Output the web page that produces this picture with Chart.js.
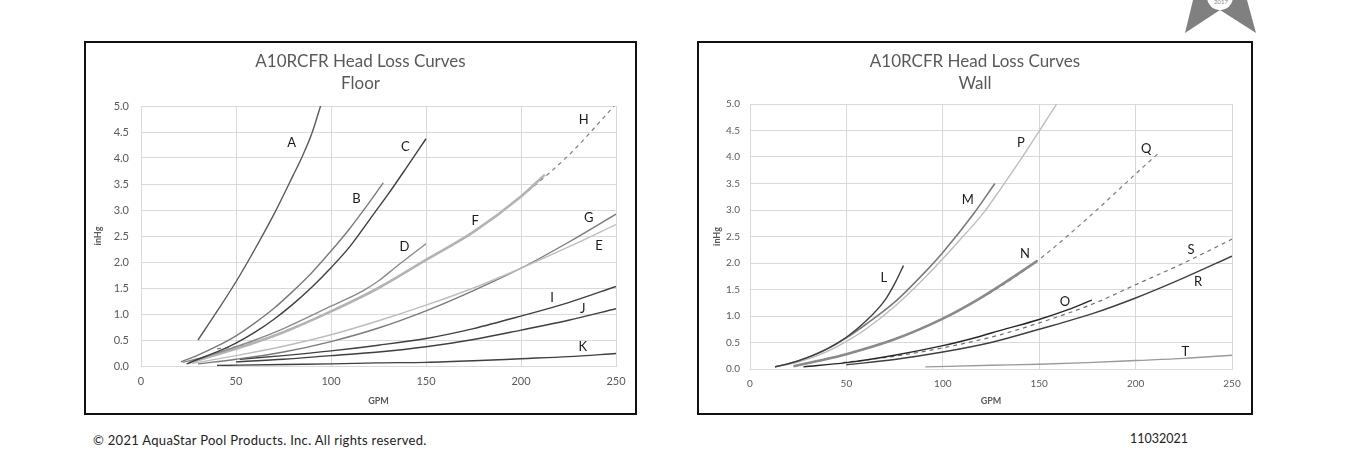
<!DOCTYPE html>
<html><head><meta charset="utf-8">
<script src="https://cdn.jsdelivr.net/npm/chart.js@4.4.1/dist/chart.umd.min.js"></script>
<style>
html,body{margin:0;padding:0;background:#fff;}
body{width:1348px;height:461px;position:relative;overflow:hidden;font-family:Lato,'Open Sans',sans-serif;}
.box{position:absolute;border:2px solid #111;box-sizing:border-box;}
#box1{left:84px;top:41px;width:553px;height:374px;}
#box2{left:697px;top:41px;width:556px;height:374px;}
.box canvas{position:absolute;left:0;top:0;}
.foot{position:absolute;font-size:13px;line-height:16px;color:#222;white-space:nowrap;}
</style></head>
<body>
<svg style="position:absolute;left:1180px;top:0" width="80" height="36">
<polygon points="13,0 5,33 40,10 76,33 67,0" fill="#808080"/>
<circle cx="40" cy="-3" r="13" fill="#fff"/>
<text x="41" y="4" font-size="6" fill="#888" text-anchor="middle" font-family="Lato">2017</text>
</svg>
<div class="box" id="box1"><canvas id="c1" width="549" height="370"></canvas></div>
<div class="box" id="box2"><canvas id="c2" width="552" height="370"></canvas></div>
<div class="foot" style="left:93px;top:432px;letter-spacing:0.3px;">© 2021 AquaStar Pool Products. Inc. All rights reserved.</div>
<div class="foot" style="left:1130px;top:431px;font-size:12.5px;">11032021</div>
<script>
// ---- Data: [GPM, inHg] pairs ----
const gpmTicks = [0, 50, 100, 150, 200, 250];
const inHgTicks = [0, 0.5, 1, 1.5, 2, 2.5, 3, 3.5, 4, 4.5, 5];

// Floor curves
const floorA = [[30,0.5],[40,1.05],[50,1.62],[60,2.25],[70,2.92],[80,3.66],[85,4.04],[90,4.48],[94.5,5.0]];
const floorB = [[21,0.08],[30,0.21],[40,0.38],[50,0.58],[60,0.83],[70,1.11],[80,1.44],[90,1.8],[100,2.21],[110,2.65],[116,2.94],[127.5,3.52]];
const floorC = [[24,0.04],[30,0.13],[40,0.27],[50,0.44],[60,0.65],[70,0.9],[80,1.19],[90,1.52],[100,1.89],[110,2.3],[122.8,2.94],[130,3.3],[140,3.83],[150,4.37]];
const floorD = [[22,0.07],[30,0.14],[40,0.25],[50,0.37],[60,0.5],[75,0.72],[100,1.15],[117,1.45],[125.5,1.65],[134,1.9],[150,2.35]];
const floorE = [[27,0.05],[50,0.2],[75,0.38],[100,0.6],[125,0.87],[150,1.17],[175,1.5],[200,1.88],[225,2.29],[250,2.72]];
const floorF = [[25,0.06],[50,0.33],[75,0.65],[100,1.05],[125,1.5],[150,2.04],[175,2.58],[200,3.26],[212.6,3.68]];
const floorG = [[30,0.04],[50,0.13],[75,0.27],[100,0.47],[125,0.73],[150,1.06],[175,1.45],[200,1.88],[225,2.38],[250,2.92]];
const floorH = [[40,0.33],[50,0.37],[60,0.46],[75,0.66],[100,1.05],[125,1.5],[150,2.04],[175,2.58],[200,3.26],[225,4.05],[249,5.0]];
const floorI = [[52,0.13],[75,0.2],[100,0.29],[125,0.4],[150,0.53],[175,0.72],[200,0.96],[225,1.22],[250,1.53]];
const floorJ = [[50,0.08],[75,0.13],[100,0.2],[125,0.27],[150,0.37],[175,0.51],[200,0.69],[225,0.88],[250,1.1]];
const floorK = [[40,0.01],[75,0.03],[100,0.04],[125,0.06],[150,0.07],[175,0.1],[200,0.14],[225,0.18],[250,0.24]];

// Wall curves
const wallL = [[13,0.04],[20,0.1],[30,0.22],[40,0.38],[50,0.6],[60,0.9],[70,1.3],[75.6,1.65],[79.6,1.95]];
const wallM = [[13,0.04],[25,0.15],[40,0.38],[50,0.59],[60,0.84],[75,1.26],[90,1.8],[100,2.2],[115.8,2.92],[127,3.5]];
const wallN = [[22.5,0.05],[35,0.15],[50,0.28],[75,0.56],[100,0.95],[117.7,1.3],[130,1.58],[149,2.04]];
const wallO = [[27.7,0.04],[50,0.12],[75,0.26],[100,0.44],[117.7,0.6],[130,0.73],[149.5,0.93],[165,1.12],[177.3,1.3]];
const wallP = [[13,0.04],[25,0.13],[40,0.33],[50,0.52],[60,0.75],[75,1.18],[90,1.7],[100,2.08],[110,2.48],[121,2.94],[130,3.4],[140,3.93],[150,4.49],[159,5.0]];
const wallQ = [[23,0.05],[50,0.28],[75,0.56],[100,0.95],[125,1.45],[149,2.04],[178,2.94],[200,3.68],[212.7,4.1]];
const wallR = [[50,0.08],[75,0.18],[100,0.32],[125,0.5],[150,0.75],[178,1.05],[200,1.34],[225,1.72],[250,2.13]];
const wallS = [[48,0.12],[75,0.24],[100,0.4],[125,0.6],[150,0.87],[178,1.23],[200,1.59],[225,2.0],[250,2.45]];
const wallT = [[91,0.04],[125,0.07],[150,0.09],[175,0.12],[200,0.16],[225,0.2],[250,0.26]];

// Curve letter anchors (in GPM / inHg units)
const floorLetters = [['A',79.3,4.29],['B',113.4,3.21],['C',139.1,4.21],['D',138.6,2.29],['F',175.9,2.79],['H',233,4.73],['G',235.7,2.85],['E',241,2.31],['I',216.3,1.31],['J',232.5,1.1],['K',232.5,0.37]];
const wallLetters = [['P',140.5,4.26],['Q',205.5,4.15],['M',113,3.19],['L',69.4,1.72],['N',142.6,2.17],['O',163.4,1.27],['S',228.8,2.25],['R',232.4,1.64],['T',225.8,0.33]];

const FONT = 'Lato, "Open Sans", sans-serif';
const toXY = arr => arr.map(p => ({x: p[0], y: p[1]}));
function ds(arr, color, width, dash) {
  return {data: toXY(arr), borderColor: color, borderWidth: width, borderDash: dash || [],
    pointRadius: 0, fill: false, cubicInterpolationMode: 'monotone'};
}

const letterPlugin = {
  id: 'letters',
  afterDatasetsDraw(chart, args, opts) {
    const {ctx} = chart; const x = chart.scales.x, y = chart.scales.y;
    ctx.save();
    ctx.font = '13px ' + FONT; ctx.fillStyle = '#1a1a1a';
    ctx.textAlign = 'center'; ctx.textBaseline = 'middle';
    opts.items.forEach(([t, gx, gy]) => ctx.fillText(t, x.getPixelForValue(gx), y.getPixelForValue(gy)));
    ctx.restore();
  }
};
// centre the title over the whole canvas (box), not only the padded area
const centreTitlePlugin = {
  id: 'centreTitle',
  afterLayout(chart) {
    const t = chart.titleBlock;
    if (t) { t.left = 0; t.right = chart.width; t.width = chart.width; }
  }
};

function makeChart(id, sub, datasets, letters, L) {
  new Chart(document.getElementById(id), {
    type: 'line',
    data: {datasets},
    plugins: [letterPlugin, centreTitlePlugin],
    options: {
      responsive: false, animation: false,
      layout: {padding: {top: 0, left: 0, right: L.right, bottom: 0}},
      plugins: {
        legend: {display: false}, tooltip: {enabled: false},
        title: {display: true, text: ['A10RCFR Head Loss Curves', sub], color: '#595959',
          font: {family: FONT, size: 17, weight: 'normal', lineHeight: 1.3},
          padding: {top: 7, bottom: L.titleBottom}},
        letters: {items: letters}
      },
      scales: {
        x: {type: 'linear', min: 0, max: 250,
          afterBuildTicks: s => { s.ticks = gpmTicks.map(v => ({value: v})); },
          afterFit: s => { s.height = L.xh; },
          grid: {color: '#d9d9d9', drawTicks: false}, border: {color: '#d9d9d9'},
          ticks: {color: '#595959', font: {family: FONT, size: L.tickSize}, padding: L.xpad, maxRotation: 0},
          title: {display: true, text: 'GPM', color: '#595959', font: {family: FONT, size: 9, weight: 'bold'}, padding: {top: 0, bottom: L.gpmPad}}
        },
        y: {type: 'linear', min: 0, max: 5,
          afterBuildTicks: s => { s.ticks = inHgTicks.map(v => ({value: v})); },
          afterFit: s => { s.width = L.yw; },
          grid: {color: '#d9d9d9', drawTicks: false}, border: {color: '#d9d9d9'},
          ticks: {color: '#595959', font: {family: FONT, size: L.tickSize}, padding: L.ypad, callback: v => Number(v).toFixed(1)},
          title: {display: true, text: 'inHg', color: '#595959', font: {family: FONT, size: 9, weight: 'bold'}, padding: {top: L.inhgPad, bottom: 0}}
        }
      }
    }
  });
}

makeChart('c1', 'Floor', [
  ds(floorA, '#5a5a5a', 1.4), ds(floorB, '#7a7a7a', 1.4), ds(floorC, '#3f3f3f', 1.4),
  ds(floorD, '#8a8a8a', 1.4), ds(floorE, '#bdbdbd', 1.4), ds(floorG, '#7a7a7a', 1.4),
  ds(floorF, '#b3b3b3', 2.6), ds(floorH, '#808080', 1.2, [4, 4]),
  ds(floorI, '#3f3f3f', 1.4), ds(floorJ, '#3f3f3f', 1.4), ds(floorK, '#3f3f3f', 1.4)
], floorLetters, {right: 19, titleBottom: 11.8, xh: 47, yw: 55, tickSize: 11, xpad: 9, ypad: 12, gpmPad: 7, inhgPad: 6.6});

makeChart('c2', 'Wall', [
  ds(wallL, '#3f3f3f', 1.4), ds(wallM, '#7a7a7a', 1.6), ds(wallP, '#bdbdbd', 1.4),
  ds(wallN, '#8a8a8a', 2.6), ds(wallQ, '#808080', 1.2, [4, 4]),
  ds(wallO, '#262626', 1.4), ds(wallS, '#707070', 1.2, [4, 4]), ds(wallR, '#3f3f3f', 1.4),
  ds(wallT, '#9a9a9a', 1.4)
], wallLetters, {right: 19, titleBottom: 9.8, xh: 44, yw: 51, tickSize: 10, xpad: 9, ypad: 10, gpmPad: 7, inhgPad: 12.6});
</script>
</body></html>
